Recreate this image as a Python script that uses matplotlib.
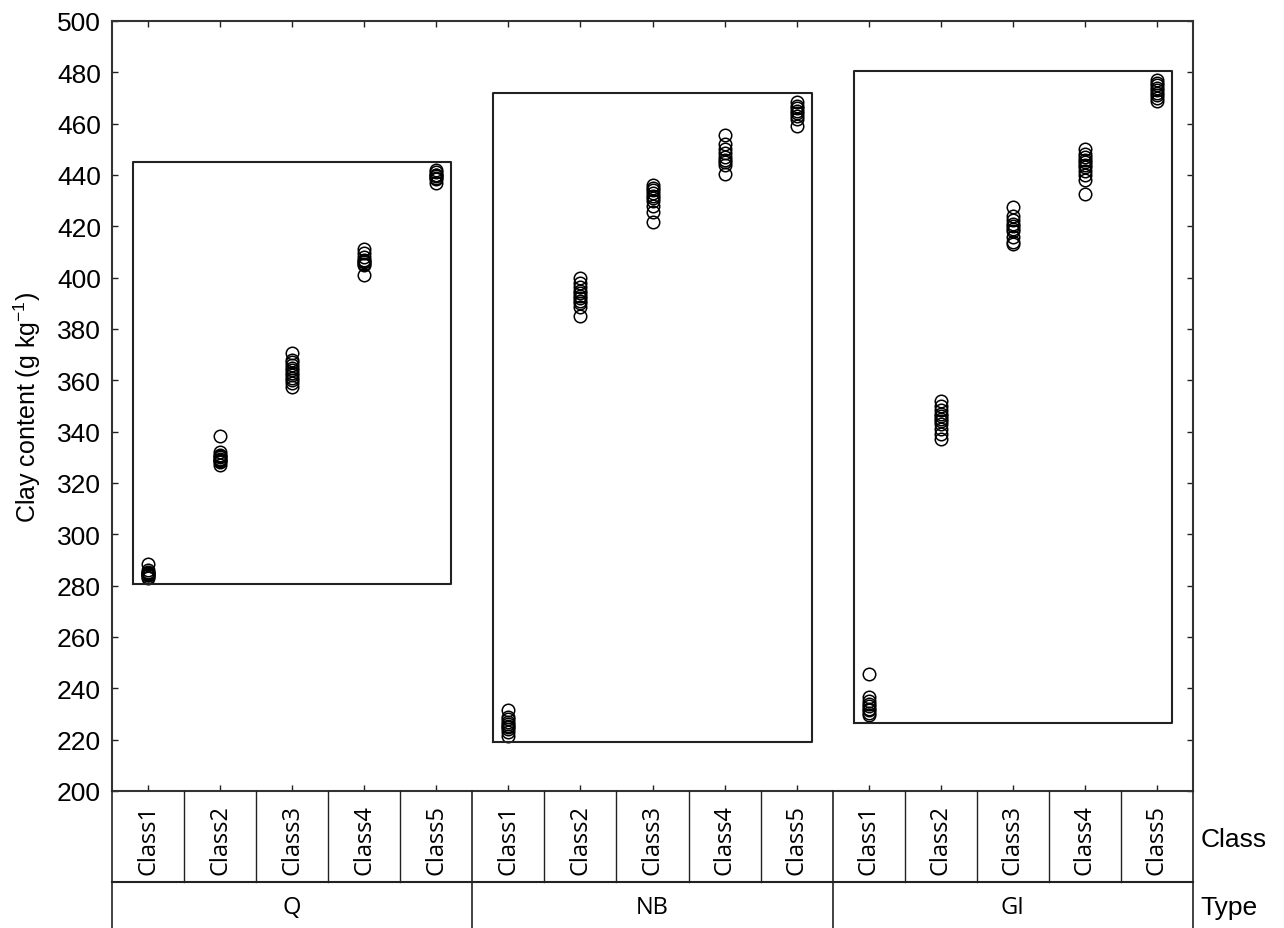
import numpy as np
import matplotlib
matplotlib.use("Agg")
import matplotlib.pyplot as plt

plt.rcParams['font.family'] = ['Liberation Sans', 'DejaVu Sans']

types = ["Q", "NB", "GI"]
classes = ["Class1", "Class2", "Class3", "Class4", "Class5"]

# clay content values per type / class (g kg-1)
q_vals = [
    [288.5, 286, 285.5, 285, 284.5, 284, 284, 283.5, 283, 285],
    [338.5, 332, 331, 330.5, 330, 329.5, 329, 328.5, 328, 327],
    [370.5, 368, 367, 366, 365, 364, 363, 362, 361, 360, 359, 357.5],
    [411, 409.5, 408, 407, 406.5, 406, 405.5, 405, 401],
    [442, 441, 440, 440, 439.5, 439, 438.5, 437],
]
nb_vals = [
    [231.5, 229, 228, 227, 226, 225.5, 225, 224, 223, 221.5],
    [400, 398, 396.5, 395, 394, 393, 392, 391, 390, 388.5, 385],
    [436, 435, 434, 433, 432, 431, 430, 428, 425.5, 421.5],
    [455.5, 452, 450, 448.5, 447, 446, 445, 444, 440.5],
    [468.5, 467, 466, 465, 464, 463, 462, 459],
]
gi_vals = [
    [245.5, 236.5, 235, 234, 233, 232, 231.5, 230.5, 229.5],
    [352, 350, 348.5, 347, 346, 345, 344, 343, 341, 339, 337],
    [427.5, 424, 422.5, 421, 420, 419, 418, 416, 414, 413],
    [450, 448, 447, 446, 445, 444, 443, 441.5, 440, 438, 432.5],
    [477, 476, 475, 474, 473, 472, 471, 470, 469],
]
all_vals = [q_vals, nb_vals, gi_vals]

# group boxes: (bottom, top) in g kg-1
box_ranges = [(280.5, 445), (219, 472), (226.5, 480.5)]

W, H = 1284, 929
fig = plt.figure(figsize=(W / 100, H / 100), dpi=100)
x0, x1 = 112, 1193
y_top, y_bot = 22, 792
ax = fig.add_axes([x0 / W, 1 - y_bot / H, (x1 - x0) / W, (y_bot - y_top) / H])

pos = 0
for t, vals in enumerate(all_vals):
    for c, v in enumerate(vals):
        ax.plot(np.full(len(v), pos), v, "o", linestyle="None", markerfacecolor="none",
                markeredgecolor="black", markersize=9, markeredgewidth=1.1)
        pos += 1
    lo, hi = box_ranges[t]
    left = t * 5 - 0.21
    right = t * 5 + 4 + 0.21
    ax.plot([left, right, right, left, left], [lo, lo, hi, hi, lo], color="#222222", linewidth=1.5)

ax.set_xlim(-0.5, 14.5)
ax.set_ylim(200, 500)
ax.set_yticks(np.arange(200, 501, 20))
ax.set_xticks(np.arange(15))
ax.set_xticklabels([])
ax.tick_params(direction="in", length=4, width=1, top=True, right=True, labelsize=19,
               colors="#222222", pad=8)
ax.tick_params(axis="y", labelcolor="black")
for s in ax.spines.values():
    s.set_linewidth(1.5)
    s.set_color("#333333")
ax.set_ylabel("Clay content (g kg$^{\\mathregular{-1}}$)", fontsize=18, labelpad=10)

# category table below the plot
tb = fig.add_axes([x0 / W, 0, (x1 - x0) / W, (H - y_bot) / H])
tb.set_xlim(-0.5, 14.5)
tb.set_ylim(0, 1)
tb.axis("off")
split = (H - 883) / (H - y_bot)
lc = "#222222"
tb.plot([-0.5, 14.5], [split, split], color=lc, linewidth=1.5, clip_on=False)
for i in range(16):
    xb = i - 0.5
    if i % 5 == 0:
        tb.plot([xb, xb], [0, 1], color=lc, linewidth=1.2, clip_on=False)
    else:
        tb.plot([xb, xb], [split, 1], color=lc, linewidth=1.0, clip_on=False)
for i in range(15):
    tb.text(i, 0.65, classes[i % 5], rotation=90, ha="center", va="center",
            fontsize=17, family=["Open Sans", "DejaVu Sans"])
for t in range(3):
    tb.text(t * 5 + 2, 0.15, types[t], ha="center", va="center",
            fontsize=17, family=["Open Sans", "DejaVu Sans"])
tb.text(14.6, 0.65, "Class", ha="left", va="center", fontsize=19)
tb.text(14.6, 0.15, "Type", ha="left", va="center", fontsize=19)

fig.savefig("out.png", dpi=100)
